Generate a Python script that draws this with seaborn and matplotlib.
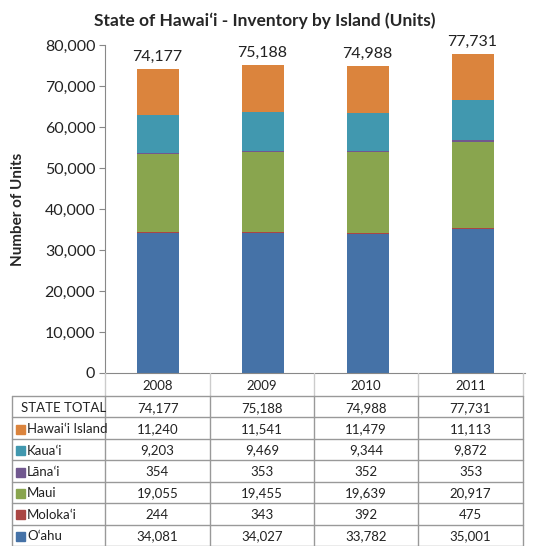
import matplotlib
matplotlib.use("Agg")
import matplotlib.pyplot as plt
import seaborn as sns
import numpy as np

years = ["2008", "2009", "2010", "2011"]
islands = ["Oʻahu", "Molokaʻi", "Maui", "Lānaʻi", "Kauaʻi", "Hawaiʻi Island"]
oahu = [34081, 34027, 33782, 35001]
molokai = [244, 343, 392, 475]
maui = [19055, 19455, 19639, 20917]
lanai = [354, 353, 352, 353]
kauai = [9203, 9469, 9344, 9872]
hawaii = [11240, 11541, 11479, 11113]
state_total = [74177, 75188, 74988, 77731]
colors = ["#4572A7", "#AA4643", "#89A54E", "#71588F", "#4198AF", "#DB843D"]

series = [oahu, molokai, maui, lanai, kauai, hawaii]

sns.set_style("white")
plt.rcParams["font.family"] = ["Lato", "DejaVu Sans"]

W, H = 548, 546
fig = plt.figure(figsize=(W / 100, H / 100), dpi=100)

# chart axes in pixel terms
x0, x1, ytop, ybot = 105, 525, 45, 373
ax = fig.add_axes([x0 / W, 1 - ybot / H, (x1 - x0) / W, (ybot - ytop) / H])

bottom = np.zeros(len(years))
for vals, col in zip(series, colors):
    sns.barplot(x=years, y=vals, bottom=bottom, color=col, width=0.4,
                linewidth=0, ax=ax, saturation=1)
    bottom += np.array(vals)

for i, tot in enumerate(state_total):
    ax.text(i, bottom[i] + 1200, f"{tot:,}", ha="center", va="bottom", fontsize=11.5, color="#222222")

ax.set_ylim(0, 80000)
ax.set_xlim(-0.5, 3.5)
ax.set_yticks(range(0, 80001, 10000))
ax.set_yticklabels([f"{v:,}" for v in range(0, 80001, 10000)], fontsize=11.5, color="#222222")
ax.set_xticks([])
ax.set_xlabel("")
ax.set_ylabel("Number of Units", fontsize=11, fontweight="bold")
ax.yaxis.set_label_coords(-0.19, 0.5)
ax.tick_params(axis="y", direction="out", length=4, color="#888888", pad=3, left=True)
for s in ["top", "right"]:
    ax.spines[s].set_visible(False)
ax.spines["left"].set_color("#888888")
ax.spines["bottom"].set_color("#888888")
ax.set_title("State of Hawaiʻi - Inventory by Island (Units)", fontsize=12.5,
             fontweight="bold", pad=14, x=0.38)

# table drawn in pixel coordinates
tab = fig.add_axes([0, 0, 1, (H - ybot) / H])
tab.set_xlim(0, W)
tab.set_ylim(H, ybot)
tab.axis("off")

col_edges = [105, 210, 314, 418, 523]
row_h = (H - 396) / 7.0
header_bot = 396
lc = "#999999"
# header
for xe in col_edges:
    tab.plot([xe, xe], [ybot, header_bot], color="#cccccc", lw=1)
for j, y in enumerate(years):
    tab.text((col_edges[j] + col_edges[j + 1]) / 2, (ybot + header_bot) / 2 + 1, y,
             ha="center", va="center", fontsize=9.5, color="#222222")

row_labels = ["STATE TOTAL"] + islands[::-1]
row_vals = [state_total] + series[::-1]
row_cols = [None] + colors[::-1]
for r in range(8):
    yy = header_bot + r * row_h
    tab.plot([12, col_edges[-1]], [yy, yy], color=lc, lw=1)
for xe in [12] + col_edges:
    tab.plot([xe, xe], [header_bot, H], color=lc, lw=1)

for r, (lab, vals, c) in enumerate(zip(row_labels, row_vals, row_cols)):
    yc = header_bot + (r + 0.5) * row_h + 1
    if c is None:
        tab.text(64, yc, lab, ha="center", va="center", fontsize=9.5, color="#222222")
    else:
        tab.add_patch(plt.Rectangle((16, yc - 4.5), 9, 9, color=c))
        tab.text(27, yc, lab, ha="left", va="center", fontsize=9.5, color="#222222")
    for j, v in enumerate(vals):
        tab.text((col_edges[j] + col_edges[j + 1]) / 2, yc, f"{v:,}",
                 ha="center", va="center", fontsize=9.5, color="#222222")

fig.savefig("out.png", dpi=100)
